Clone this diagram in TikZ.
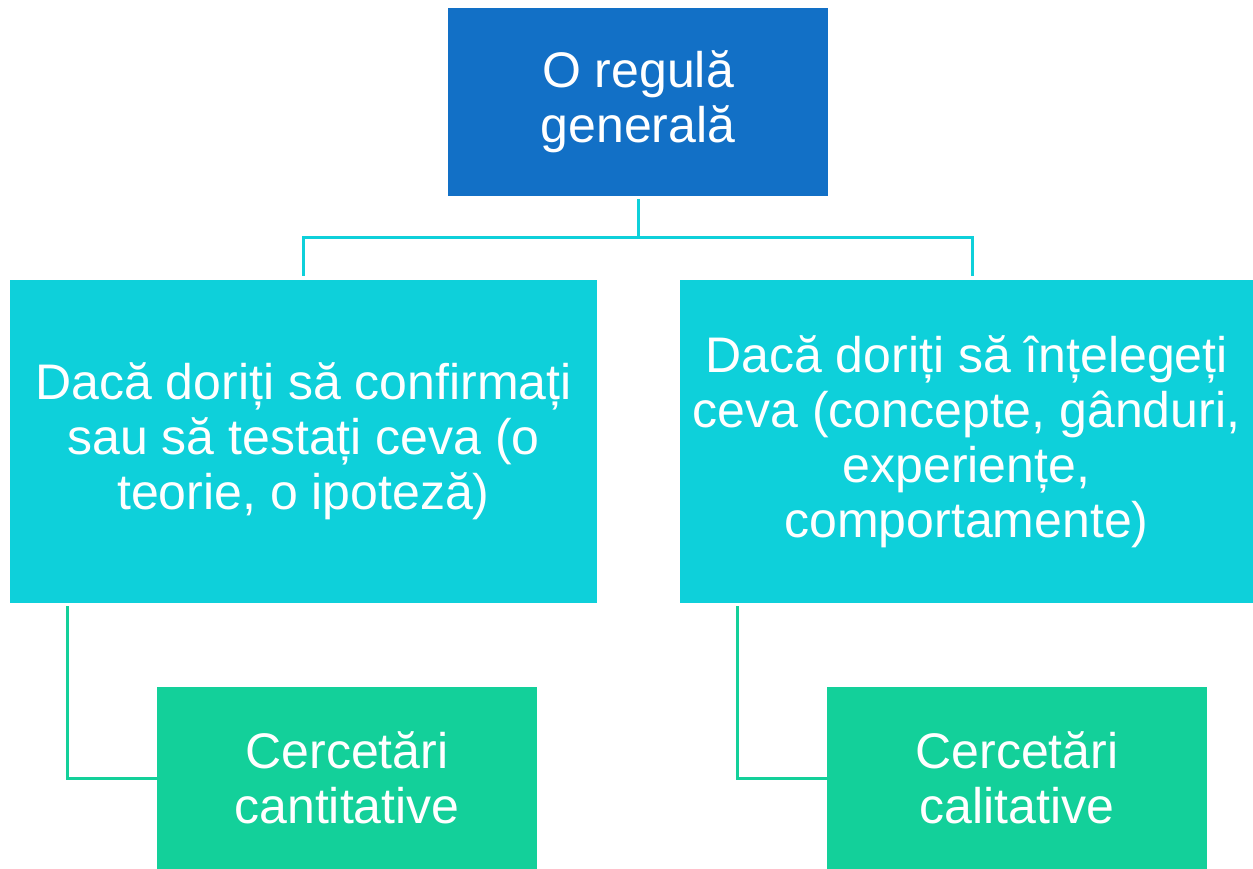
\documentclass[tikz,border=0pt]{standalone}
\usepackage{fontspec}
\setmainfont{Liberation Sans}
\definecolor{topblue}{HTML}{1270C6}
\definecolor{midcyan}{HTML}{0ED0DA}
\definecolor{botgreen}{HTML}{13D09A}
\begin{document}
\begin{tikzpicture}[x=1pt,y=-1pt,
  box/.style={rectangle, inner sep=0pt, text=white, align=center,
    font=\fontsize{50}{55}\selectfont},
  conn/.style={line width=3pt},
]
\useasboundingbox (0,0) rectangle (1253,869);
\node[box, fill=topblue, minimum width=380pt, minimum height=188pt] (top) at (638,102) {O regulă\\generală};
\node[box, fill=midcyan, minimum width=587pt, minimum height=323pt] (L) at (303.5,441.5) {Dacă doriți să confirmați\\sau să testați ceva (o\\teorie, o ipoteză)};
\node[box, fill=midcyan, minimum width=573pt, minimum height=323pt] (R) at (966.5,441.5) {Dacă doriți să înțelegeți\\ceva (concepte, gânduri,\\experiențe,\\comportamente)};
\node[box, fill=botgreen, minimum width=380pt, minimum height=182pt] (GL) at (347,778) {Cercetări\\cantitative};
\node[box, fill=botgreen, minimum width=380pt, minimum height=182pt] (GR) at (1017,778) {Cercetări\\calitative};
\coordinate (j) at (638,238);
\coordinate (rj) at (972,276);
\coordinate (lj) at (303.5,276);
\coordinate (la) at (67,606);
\coordinate (ra) at (737.5,606);
\draw[conn, midcyan] (top.south) ++(0,3) -- (j);
\draw[conn, midcyan] (j) -| (lj);
\draw[conn, midcyan] (j) -| (rj);
\draw[conn, botgreen] (la) |- (GL.west);
\draw[conn, botgreen] (ra) |- (GR.west);
\end{tikzpicture}
\end{document}
